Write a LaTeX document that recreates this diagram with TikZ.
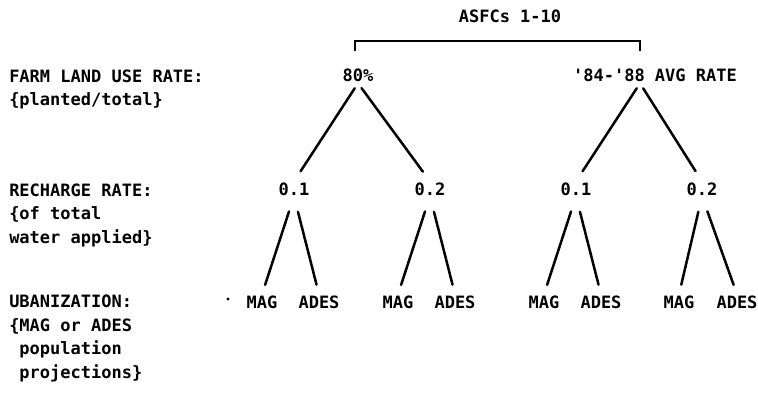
\documentclass[tikz,border=0pt]{standalone}
\usepackage{fontspec}
\setmonofont{DejaVu Sans Mono}
\usetikzlibrary{trees}

\begin{document}
\begin{tikzpicture}[
    x=1pt, y=-1pt,
    level 1/.style={grow via three points={one child at (0,113)
        and two children at (-64,113) and (72,113)}},
    level 2/.style={grow via three points={one child at (0,113)
        and two children at (-32,113) and (25,113)},
      edge from parent/.style={draw, shorten <=16pt, shorten >=10pt}},
    parent anchor=south, child anchor=north,
    edge from parent/.style={draw, shorten <=6pt, shorten >=12pt},
    every node/.style={font=\ttfamily\bfseries\fontsize{17}{23.5}\selectfont, inner sep=0pt},
    choice/.style={text height=12.4pt, text depth=0pt},
    every child node/.style={choice},
    side/.style={anchor=base west, align=left},
    line width=2.5pt, line cap=round
  ]
  \useasboundingbox (0,0) rectangle (758,401);

  \node[side] (farm) at (8,106) {FARM LAND USE RATE:\\\{planted/total\}};
  \node[side] (recharge) at (8,243) {RECHARGE RATE:\\\{of total\\water applied\}};
  \node[side] (urban) at (8,378)
    {UBANIZATION:\\\{MAG or ADES\\\hphantom{x}population\\\hphantom{x}projections\}};

  \node[choice] (asfc) at (510,16.8) {ASFCs 1-10};

  \node[choice] (use80) at (358,75.8) {80\%}
    child { node (rch1) {0.1}
      child { node (mag1) {MAG} }
      child { node (ades1) {ADES} }
    }
    child { node (rch2) {0.2}
      child { node (mag2) {MAG} }
      child { node (ades2) {ADES} }
    };

  \begin{scope}[
      level 1/.style={grow via three points={one child at (0,113)
          and two children at (-79,113) and (47,113)},
        edge from parent path={([xshift=-15pt]\tikzparentnode.south) -- (\tikzchildnode.north)}},
      level 2/.append style={
        edge from parent path={(\tikzparentnode\tikzparentanchor) -- (\tikzchildnode\tikzchildanchor)}}
    ]
    \node[choice] (avg) at (655,75.8) {'84-'88 AVG RATE}
      child { node (rch3) {0.1}
        child { node (mag3) {MAG} }
        child { node (ades3) {ADES} }
      }
      child[level 2/.append style={grow via three points={one child at (0,113)
          and two children at (-23,113) and (35,113)}}] { node (rch4) {0.2}
        child { node (mag4) {MAG} }
        child { node (ades4) {ADES} }
      };
  \end{scope}

  \draw[line width=2pt, line cap=butt]
    ([shift={(-3pt,17pt)}]use80.north) -- ++(0,-10) -| ([shift={(-15pt,17pt)}]avg.north);

  \node[circle, fill, inner sep=1.1pt] (speck) at (228,299) {};
\end{tikzpicture}
\end{document}
